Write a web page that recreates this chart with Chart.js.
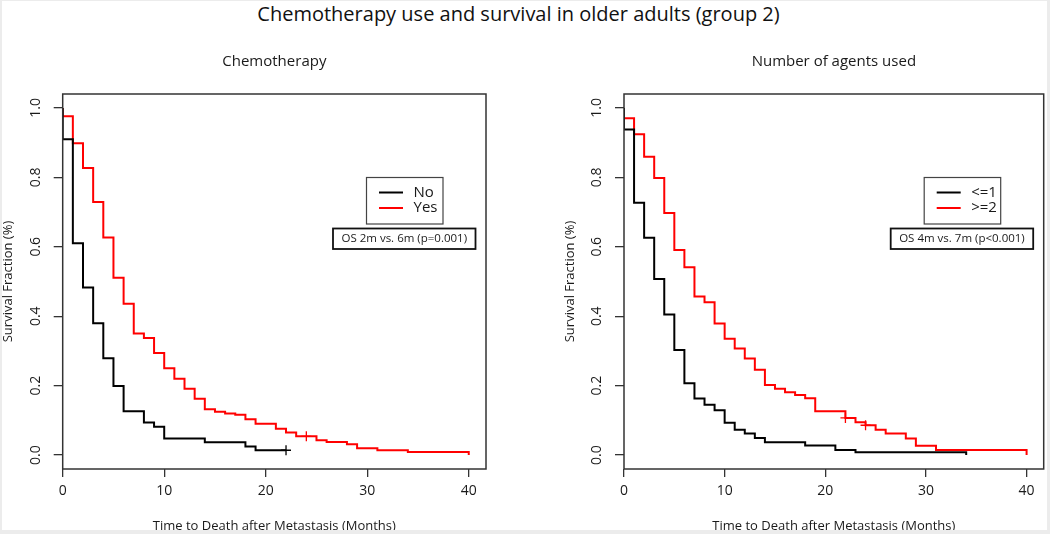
<!DOCTYPE html>
<html>
<head>
<meta charset="utf-8">
<script src="https://cdn.jsdelivr.net/npm/chart.js@4/dist/chart.umd.min.js"></script>
<style>
  html, body { margin: 0; padding: 0; background: #ececec; }
  #frame { position: absolute; left: 2px; top: 1px; width: 1045px; height: 529px; background: #fff; overflow: hidden; }
  #title { position: absolute; left: 0; top: 0; width: 1033px; text-align: center; font: 20px 'Open Sans', sans-serif; color: #111; line-height: 26px; }
  canvas { position: absolute; top: -1px; }
</style>
</head>
<body>
<div id="frame">
  <div id="title">Chemotherapy use and survival in older adults (group 2)</div>
  <canvas id="chemo" width="525" height="534" style="left:-2px"></canvas>
  <canvas id="agents" width="525" height="534" style="left:523px"></canvas>
</div>
<script>
// axis ticks (months / survival fraction)
const xTicks = [0, 10, 20, 30, 40];
const yTicks = [0, 0.2, 0.4, 0.6, 0.8, 1.0];

// --- Chemotherapy: No vs Yes ---
const chemoLabels = ['No', 'Yes'];
const noTime  = [0, 0, 1, 2, 3, 4, 5, 6, 8, 9, 10, 14, 18, 19, 22];
const noSurv  = [1, 0.91, 0.61, 0.483, 0.38, 0.279, 0.199, 0.126, 0.094, 0.082, 0.048, 0.037, 0.025, 0.014, 0.014];
const yesTime = [0, 0, 1, 2, 3, 4, 5, 6, 7, 8, 9, 10, 11, 12, 13, 14, 15, 16, 17, 18, 19, 21, 22, 23, 25, 26, 28, 29, 31, 34, 40];
const yesSurv = [1, 0.976, 0.898, 0.827, 0.729, 0.627, 0.511, 0.436, 0.35, 0.337, 0.294, 0.25, 0.22, 0.191, 0.162, 0.132, 0.125, 0.12, 0.116, 0.103, 0.09, 0.076, 0.065, 0.054, 0.043, 0.038, 0.031, 0.02, 0.014, 0.009, 0];
const noCensorTime  = [22];
const noCensorSurv  = [0.014];
const yesCensorTime = [24];
const yesCensorSurv = [0.054];
const chemoNote = 'OS 2m vs. 6m (p=0.001)';

// --- Number of agents: <=1 vs >=2 ---
const agentLabels = ['<=1', '>=2'];
const lowTime  = [0, 0, 1, 2, 3, 4, 5, 6, 7, 8, 9, 10, 11, 12, 13, 14, 18, 21, 23, 34];
const lowSurv  = [1, 0.938, 0.727, 0.626, 0.507, 0.405, 0.303, 0.207, 0.163, 0.145, 0.129, 0.093, 0.073, 0.062, 0.049, 0.037, 0.028, 0.015, 0.008, 0];
const highTime = [0, 0, 1, 2, 3, 4, 5, 6, 7, 8, 9, 10, 11, 12, 13, 14, 15, 16, 17, 18, 19, 22, 23, 24, 25, 26, 28, 29, 31, 40];
const highSurv = [1, 0.97, 0.924, 0.859, 0.798, 0.697, 0.591, 0.541, 0.457, 0.44, 0.379, 0.335, 0.307, 0.278, 0.246, 0.202, 0.191, 0.181, 0.173, 0.164, 0.126, 0.107, 0.095, 0.086, 0.073, 0.062, 0.048, 0.027, 0.015, 0];
const lowCensorTime  = [];
const lowCensorSurv  = [];
const highCensorTime = [22, 24];
const highCensorSurv = [0.107, 0.086];
const agentNote = 'OS 4m vs. 7m (p<0.001)';

const FONT = "'Open Sans', sans-serif";
const colors = { a: '#000000', b: '#ff0000', axis: '#333333', text: '#1a1a1a' };

function pts(t, s) {
    return t.map((v, i) => ({ x: v, y: s[i] }));
}

// box, rotated y labels, axis titles, subtitle, legend and OS note
const decorations = {
    id: 'decorations',
    afterDraw(chart, args, opts) {
        const ctx = chart.ctx;
        const a = chart.chartArea;
        const ys = chart.scales.y;
        ctx.save();
        ctx.strokeStyle = colors.axis;
        ctx.lineWidth = 1.5;
        ctx.strokeRect(a.left, a.top, a.right - a.left, a.bottom - a.top);

        ctx.fillStyle = colors.text;
        ctx.textAlign = 'center';
        ctx.textBaseline = 'middle';
        ctx.font = '14px ' + FONT;
        yTicks.forEach(v => {
            ctx.save();
            ctx.translate(a.left - 27, ys.getPixelForValue(v));
            ctx.rotate(-Math.PI / 2);
            ctx.fillText(v.toFixed(1), 0, 0);
            ctx.restore();
        });

        ctx.font = '13px ' + FONT;
        ctx.save();
        ctx.translate(a.left - 54, (a.top + a.bottom) / 2);
        ctx.rotate(-Math.PI / 2);
        ctx.fillText('Survival Fraction (%)', 0, 0);
        ctx.restore();

        ctx.fillText('Time to Death after Metastasis (Months)', (a.left + a.right) / 2, 526);

        ctx.font = '15px ' + FONT;
        ctx.fillText(opts.subtitle, (a.left + a.right) / 2, 62);

        // legend box
        const lx = a.right - 119.5, ly = 177.5;
        ctx.strokeStyle = '#444';
        ctx.lineWidth = 1.2;
        ctx.strokeRect(lx, ly, 76.5, 46.5);
        ctx.textAlign = 'left';
        ctx.font = '15px ' + FONT;
        opts.labels.forEach((lab, i) => {
            const yy = ly + 15 + i * 15.5;
            ctx.strokeStyle = i === 0 ? colors.a : colors.b;
            ctx.lineWidth = 2;
            ctx.beginPath();
            ctx.moveTo(lx + 12.5, yy);
            ctx.lineTo(lx + 36.5, yy);
            ctx.stroke();
            ctx.fillStyle = colors.text;
            ctx.fillText(lab, lx + 47, yy);
        });

        // OS note box
        const ox = a.right - 153, oy = 228.5;
        ctx.strokeStyle = '#111';
        ctx.lineWidth = 1.8;
        ctx.strokeRect(ox, oy, 142.5, 20.5);
        ctx.textAlign = 'center';
        ctx.font = '11.5px ' + FONT;
        ctx.fillText(opts.note, ox + 71.25, oy + 10.5);
        ctx.restore();
    }
};

function makeChart(id, subtitle, labels, curves, censors, note, padLeft, padRight) {
    const datasets = curves.map((c, i) => ({
        label: labels[i],
        data: pts(c[0], c[1]),
        borderColor: i === 0 ? colors.a : colors.b,
        borderWidth: 2,
        stepped: true,
        pointRadius: 0,
        fill: false
    }));
    censors.forEach((c, i) => {
        datasets.push({
            label: labels[i] + ' censored',
            data: pts(c[0], c[1]),
            showLine: false,
            pointStyle: 'cross',
            pointRadius: 5,
            pointBorderWidth: 1.3,
            borderColor: i === 0 ? colors.a : colors.b,
            backgroundColor: i === 0 ? colors.a : colors.b
        });
    });

    return new Chart(document.getElementById(id), {
        type: 'line',
        data: { datasets },
        options: {
            responsive: false,
            animation: false,
            layout: { padding: { left: padLeft, right: padRight, top: 94, bottom: 25 } },
            plugins: {
                legend: { display: false },
                tooltip: { enabled: false },
                decorations: { subtitle, labels, note }
            },
            scales: {
                x: {
                    type: 'linear',
                    min: 0,
                    max: 41.7,
                    afterBuildTicks: s => { s.ticks = xTicks.map(v => ({ value: v })); },
                    afterFit: s => { s.height = 40; },
                    grid: { drawOnChartArea: false, drawTicks: true, tickLength: 8, color: colors.axis, lineWidth: 1.3 },
                    border: { display: false },
                    ticks: { color: colors.text, font: { size: 14, family: FONT }, padding: 6, maxRotation: 0 }
                },
                y: {
                    type: 'linear',
                    min: -0.04,
                    max: 1.04,
                    afterBuildTicks: s => { s.ticks = yTicks.map(v => ({ value: v })); },
                    afterFit: s => { s.width = 50; },
                    grid: { drawOnChartArea: false, drawTicks: true, tickLength: 9, color: colors.axis, lineWidth: 1.3 },
                    border: { display: false },
                    ticks: { color: 'rgba(0,0,0,0)', font: { size: 14, family: FONT } }
                }
            }
        },
        plugins: [decorations]
    });
}

makeChart('chemo', 'Chemotherapy', chemoLabels,
    [[noTime, noSurv], [yesTime, yesSurv]],
    [[noCensorTime, noCensorSurv], [yesCensorTime, yesCensorSurv]],
    chemoNote, 12.7, 39);

makeChart('agents', 'Number of agents used', agentLabels,
    [[lowTime, lowSurv], [highTime, highSurv]],
    [[lowCensorTime, lowCensorSurv], [highCensorTime, highCensorSurv]],
    agentNote, 49, 3.3);
</script>
</body>
</html>
